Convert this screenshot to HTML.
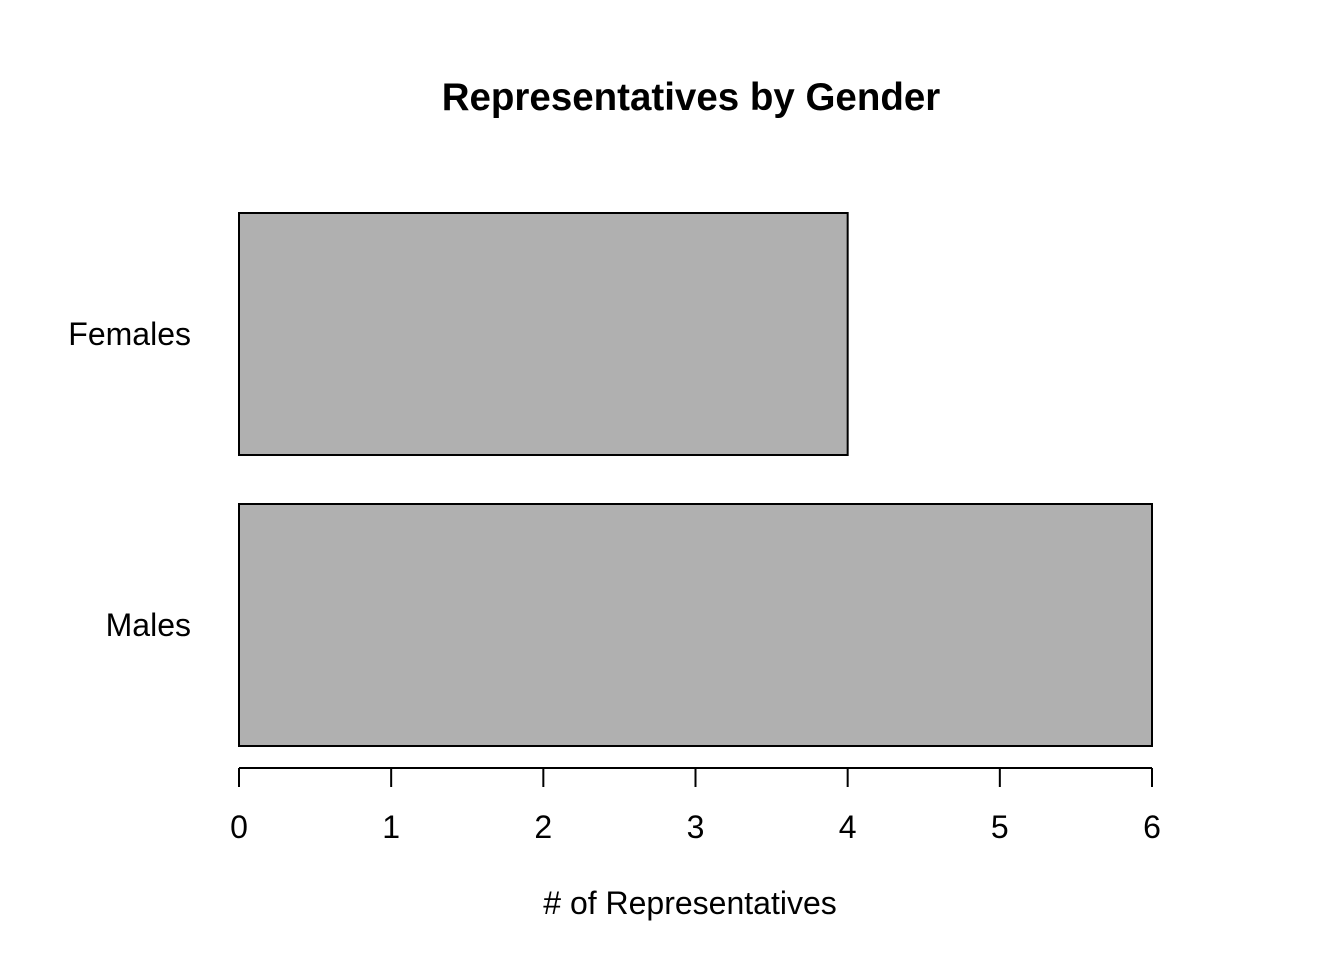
<!DOCTYPE html>
<html><head><meta charset="utf-8"><style>
html,body{margin:0;padding:0;background:#fff;}
svg text{font-family:"Liberation Sans",Arial,sans-serif;}
</style></head><body>
<svg id="chart" width="1344" height="960" viewBox="0 0 1344 960" xmlns="http://www.w3.org/2000/svg">
<rect width="1344" height="960" fill="#fff"/>
<text x="691" y="110" text-anchor="middle" font-size="38.5" font-weight="bold">Representatives by Gender</text>
<text x="690" y="914" text-anchor="middle" font-size="32"># of Representatives</text>
<g id="bars"></g>
<g id="axis"></g>
</svg>
<script>
const categories = ["Females", "Males"];
const values = [4, 6];
const ticks = [0, 1, 2, 3, 4, 5, 6];
const ns = "http://www.w3.org/2000/svg";
function xs(v){ return 239 + v * (1152 - 239) / 6; }
function bandTop(i){ return 213 + i * 291; }
const bandH = 242;
const bars = document.getElementById('bars');
categories.forEach((c, i) => {
  const r = document.createElementNS(ns, 'rect');
  
  
  r.setAttribute('x', xs(0));
  r.setAttribute('y', bandTop(i));
  r.setAttribute('width', xs(values[i]) - xs(0));
  r.setAttribute('height', bandH);
  r.setAttribute('fill', '#b0b0b0');
  r.setAttribute('stroke', '#000');
  r.setAttribute('stroke-width', '2');
  bars.appendChild(r);
  const t = document.createElementNS(ns, 'text');
  
  
  t.setAttribute('x', 191);
  t.setAttribute('y', bandTop(i) + bandH / 2 + 11);
  t.setAttribute('text-anchor', 'end');
  t.setAttribute('font-size', '32');
  t.textContent = c;
  bars.appendChild(t);
});
const axis = document.getElementById('axis');
const line = document.createElementNS(ns, 'line');


line.setAttribute('x1', xs(ticks[0])); line.setAttribute('x2', xs(ticks[ticks.length-1]));
line.setAttribute('y1', 768); line.setAttribute('y2', 768);
line.setAttribute('stroke', '#000'); line.setAttribute('stroke-width', '2');
axis.appendChild(line);
ticks.forEach(v => {
  const l = document.createElementNS(ns, 'line');
  
  
  l.setAttribute('x1', xs(v)); l.setAttribute('x2', xs(v));
  l.setAttribute('y1', 768); l.setAttribute('y2', 787);
  l.setAttribute('stroke', '#000'); l.setAttribute('stroke-width', '2');
  axis.appendChild(l);
  const t = document.createElementNS(ns, 'text');
  
  
  t.setAttribute('x', xs(v)); t.setAttribute('y', 838);
  t.setAttribute('text-anchor', 'middle'); t.setAttribute('font-size', '32');
  t.textContent = String(v);
  axis.appendChild(t);
});
</script>
</body></html>
